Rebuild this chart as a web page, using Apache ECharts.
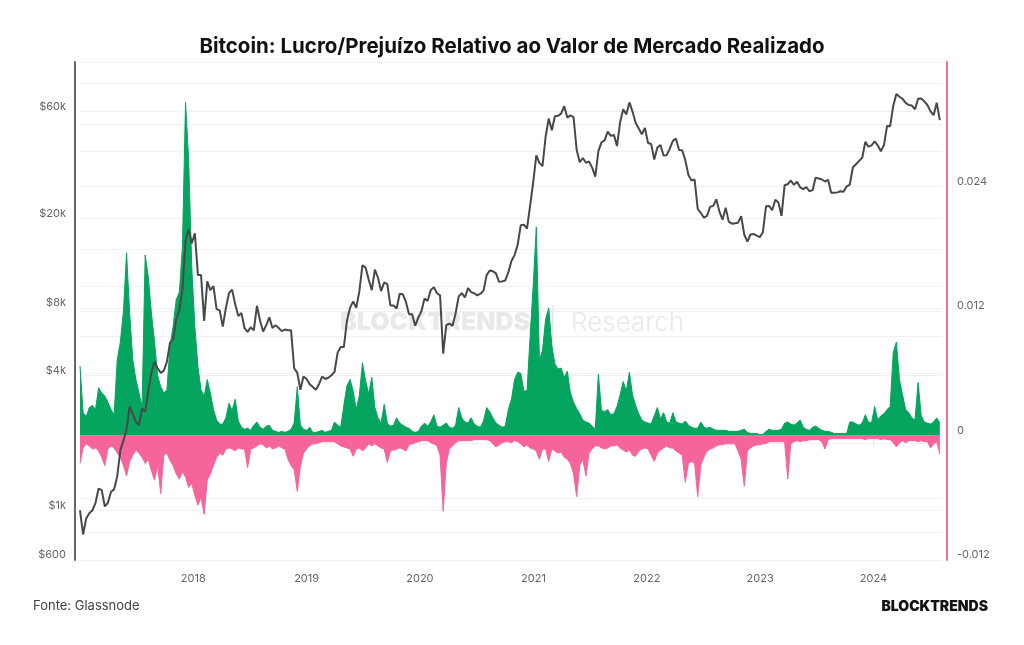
<!DOCTYPE html>
<html>
<head>
<meta charset="utf-8">
<title>Bitcoin: Lucro/Prejuízo Relativo</title>
<script src="https://cdn.jsdelivr.net/npm/echarts@6.0.0/dist/echarts.min.js"></script>
<style>
  html, body { margin: 0; padding: 0; background: #fff; }
  #chart { width: 1024px; height: 645px; }
</style>
</head>
<body>
<div id="chart"></div>
<script>
// samples every 10 days starting 2017-01-01
const startDay = [2017, 0, 1]
const stepDays = 10

// BTC price (USD), left log axis
const price = [
  1000, 780, 920, 970, 1000, 1080, 1250, 1230, 1040, 1080,
  1210, 1240, 1420, 1850, 2050, 2300, 2900, 2700, 2480, 2400,
  2850, 2750, 3400, 4100, 4600, 4300, 4100, 4200, 4600, 5600,
  5800, 7100, 7800, 9700, 16000, 18000, 15500, 17200, 11200, 11200,
  7000, 10500, 9600, 10000, 7900, 7800, 6600, 8000, 9300, 9650,
  8300, 7350, 7600, 6500, 6250, 6550, 6350, 8170, 7030, 6270,
  6700, 7260, 6500, 6700, 6500, 6300, 6400, 6350, 6350, 4300,
  4100, 3450, 3950, 3850, 3650, 3550, 3450, 3650, 3950, 3850,
  3900, 4000, 4150, 5050, 5350, 5350, 7000, 8000, 8550, 8000,
  9500, 12400, 12100, 10700, 9600, 11850, 10900, 9500, 10400, 10200,
  8200, 8200, 7950, 9250, 9200, 8500, 7500, 7500, 6650, 7250,
  7750, 8800, 8600, 9600, 9900, 9300, 9100, 5000, 6700, 6800,
  6650, 7550, 9000, 9300, 8900, 9800, 9400, 9300, 9100, 9250,
  9550, 11200, 11750, 11650, 11400, 10450, 10500, 10600, 11550, 12950,
  13750, 15300, 18700, 18800, 18050, 22800, 29000, 38300, 35500, 34300,
  46400, 55900, 49600, 57300, 57500, 58800, 63500, 56500, 57800, 56700,
  40600, 35700, 37300, 35500, 36000, 33800, 30800, 40000, 43800, 44700,
  48900, 46800, 47300, 42200, 53800, 61500, 58400, 66000, 60100, 53600,
  50500, 47600, 50800, 43500, 43100, 36700, 41500, 42600, 38300, 38400,
  41100, 44500, 45500, 40500, 40400, 36500, 31300, 29600, 29900, 22100,
  21200, 20200, 20600, 22600, 22800, 24400, 21500, 19800, 22400, 19400,
  19000, 19100, 19200, 20500, 17000, 15800, 17000, 17100, 16800, 16550,
  17400, 22700, 22800, 21800, 24300, 23600, 20600, 28200, 28500, 29600,
  28300, 29200, 27600, 27100, 27700, 26500, 26800, 30500, 30200, 29900,
  29300, 29800, 26100, 26100, 26200, 26500, 26400, 27900, 28400, 33900,
  35000, 36200, 37400, 44000, 41900, 42500, 44200, 42500, 40000, 42600,
  51800, 51700, 63800, 72000, 70000, 68500, 65700, 64300, 63900, 61500,
  68500, 68800, 66800, 64300, 60200, 57900, 65800, 55000
]

// relative profit (green) and loss (pink), right axis
const profit = [
  0.0067, 0.0022, 0.0018, 0.0027, 0.0029, 0.0025, 0.0046, 0.0041, 0.0038, 0.0032,
  0.0025, 0.002, 0.0073, 0.009, 0.012, 0.0176, 0.0118, 0.0073, 0.0054, 0.0041,
  0.0028, 0.0174, 0.0153, 0.0118, 0.0091, 0.0058, 0.0047, 0.0041, 0.0044, 0.0086,
  0.0105, 0.0131, 0.0138, 0.0182, 0.0321, 0.0266, 0.0163, 0.0105, 0.0066, 0.0044,
  0.0038, 0.0054, 0.0041, 0.0025, 0.0015, 0.0011, 0.0011, 0.0017, 0.0031, 0.0024,
  0.0035, 0.0014, 0.0008, 0.0006, 0.0007, 0.0005, 0.001, 0.0013, 0.0008, 0.0006,
  0.0009, 0.001, 0.0005, 0.0004, 0.0003, 0.0004, 0.0003, 0.0004, 0.0006, 0.0012,
  0.0047, 0.001, 0.0006, 0.0005, 0.0008, 0.0003, 0.0003, 0.0004, 0.0005, 0.0003,
  0.0004, 0.0005, 0.0013, 0.001, 0.0008, 0.0029, 0.0048, 0.0054, 0.0043, 0.0025,
  0.0039, 0.007, 0.0053, 0.004, 0.0056, 0.0027, 0.0017, 0.0012, 0.003, 0.0012,
  0.0009, 0.001, 0.0017, 0.0012, 0.001, 0.0008, 0.0007, 0.0004, 0.0003, 0.0004,
  0.0009, 0.0012, 0.0009, 0.0013, 0.002, 0.0009, 0.0008, 0.001, 0.0012, 0.0008,
  0.0007, 0.001, 0.0027, 0.0017, 0.0013, 0.0012, 0.0017, 0.0011, 0.0009, 0.0008,
  0.0014, 0.0027, 0.0023, 0.0017, 0.0012, 0.001, 0.0008, 0.0009, 0.0025, 0.0035,
  0.0054, 0.0061, 0.006, 0.0043, 0.0043, 0.0095, 0.0144, 0.0201, 0.0073, 0.0082,
  0.0112, 0.0123, 0.0087, 0.0069, 0.0064, 0.0065, 0.0056, 0.0062, 0.0041, 0.0032,
  0.0026, 0.0021, 0.0015, 0.0013, 0.0012, 0.0009, 0.0006, 0.0059, 0.0024, 0.0023,
  0.0025, 0.002, 0.0021, 0.0028, 0.0039, 0.0052, 0.0043, 0.0061, 0.0039, 0.0029,
  0.0021, 0.0015, 0.0013, 0.0012, 0.0011, 0.0019, 0.0027, 0.0016, 0.0022, 0.0013,
  0.0012, 0.0022, 0.0013, 0.0012, 0.0011, 0.0014, 0.001, 0.0008, 0.0007, 0.0007,
  0.0013, 0.0008, 0.0007, 0.0008, 0.0006, 0.0005, 0.0005, 0.0005, 0.0005, 0.0004,
  0.0004, 0.0004, 0.0004, 0.0005, 0.0006, 0.0003, 0.0002, 0.0002, 0.0002, 0.0001,
  0.0001, 0.0004, 0.0006, 0.0005, 0.0005, 0.0005, 0.0006, 0.0012, 0.0013, 0.0011,
  0.001, 0.0012, 0.0015, 0.0008, 0.0006, 0.0005, 0.0008, 0.0009, 0.0007, 0.0005,
  0.0004, 0.0004, 0.0003, 0.0002, 0.0002, 0.0002, 0.0002, 0.0002, 0.0013, 0.0013,
  0.0011, 0.001, 0.0012, 0.002, 0.0013, 0.0012, 0.0028, 0.0015, 0.0019, 0.0021,
  0.0025, 0.0028, 0.008, 0.009, 0.0054, 0.0039, 0.0025, 0.0022, 0.0017, 0.0015,
  0.0051, 0.0019, 0.0013, 0.0012, 0.0011, 0.0013, 0.0017, 0.0012
]

const loss = [
  -0.0027, -0.0012, -0.0008, -0.001, -0.0013, -0.0012, -0.0015, -0.0021, -0.0029, -0.0013,
  -0.001, -0.0012, -0.0017, -0.0021, -0.0029, -0.0039, -0.0025, -0.0019, -0.0014, -0.0017,
  -0.0021, -0.0027, -0.0023, -0.0034, -0.0043, -0.0029, -0.0056, -0.0019, -0.0017, -0.0024,
  -0.0029, -0.0037, -0.0042, -0.0035, -0.004, -0.005, -0.0046, -0.0058, -0.0067, -0.006,
  -0.0076, -0.0043, -0.0037, -0.0029, -0.0021, -0.0017, -0.0019, -0.0013, -0.0012, -0.0013,
  -0.0015, -0.0012, -0.0013, -0.0013, -0.0031, -0.0013, -0.0012, -0.001, -0.0008, -0.0009,
  -0.0012, -0.001, -0.0013, -0.0012, -0.001, -0.0012, -0.0013, -0.0023, -0.0029, -0.0033,
  -0.0054, -0.003, -0.0017, -0.0013, -0.001, -0.0008, -0.0008, -0.0007, -0.0006, -0.0006,
  -0.0006, -0.0006, -0.0006, -0.0008, -0.001, -0.0011, -0.0012, -0.0013, -0.002, -0.0013,
  -0.0012, -0.0015, -0.0012, -0.0008, -0.001, -0.0008, -0.001, -0.0012, -0.0013, -0.0026,
  -0.0015, -0.0014, -0.0013, -0.0012, -0.0013, -0.0015, -0.0009, -0.0008, -0.0007, -0.0006,
  -0.0005, -0.0005, -0.0005, -0.0007, -0.0008, -0.001, -0.0019, -0.0073, -0.0027, -0.0013,
  -0.001, -0.0007, -0.0005, -0.0005, -0.0005, -0.0005, -0.0005, -0.0004, -0.0004, -0.0004,
  -0.0004, -0.0004, -0.0005, -0.0008, -0.0011, -0.0009, -0.0007, -0.0006, -0.0006, -0.0007,
  -0.0005, -0.0006, -0.0008, -0.0011, -0.0009, -0.0012, -0.0013, -0.0015, -0.0023, -0.0013,
  -0.0013, -0.0025, -0.0013, -0.0015, -0.0017, -0.0016, -0.0021, -0.0023, -0.0027, -0.0037,
  -0.0059, -0.0029, -0.0023, -0.0039, -0.0017, -0.0013, -0.001, -0.001, -0.0012, -0.0013,
  -0.0012, -0.001, -0.001, -0.0009, -0.0012, -0.0014, -0.0016, -0.0014, -0.0019, -0.002,
  -0.0015, -0.0013, -0.0012, -0.0013, -0.0019, -0.0025, -0.0017, -0.0014, -0.0012, -0.001,
  -0.0012, -0.0012, -0.0015, -0.0017, -0.0019, -0.0045, -0.0027, -0.0025, -0.0027, -0.0059,
  -0.0029, -0.0021, -0.0015, -0.0013, -0.0012, -0.001, -0.0009, -0.0009, -0.0008, -0.0008,
  -0.0008, -0.0008, -0.0015, -0.0023, -0.0049, -0.0015, -0.0012, -0.001, -0.0009, -0.0009,
  -0.0008, -0.0008, -0.0006, -0.0006, -0.0006, -0.0006, -0.0006, -0.0006, -0.0042, -0.0008,
  -0.0006, -0.0005, -0.0006, -0.0005, -0.0005, -0.0004, -0.0004, -0.0004, -0.0004, -0.0006,
  -0.0013, -0.0004, -0.0003, -0.0003, -0.0003, -0.0003, -0.0003, -0.0003, -0.0003, -0.0003,
  -0.0003, -0.0003, -0.0003, -0.0004, -0.0003, -0.0003, -0.0003, -0.0003, -0.0004, -0.0003,
  -0.0004, -0.0004, -0.0007, -0.0011, -0.0007, -0.0005, -0.0007, -0.0005, -0.0005, -0.0005,
  -0.0006, -0.0005, -0.0006, -0.0006, -0.0012, -0.0008, -0.0006, -0.0018
]

// axis ticks
const years = [2018, 2019, 2020, 2021, 2022, 2023, 2024]
const priceLabels = [600, 1000, 4000, 8000, 20000, 60000]
const priceGrid = [600, 800, 1000, 2000, 4000, 6000, 8000, 10000, 20000, 40000, 60000, 80000]
const ratioLabels = [-0.012, 0, 0.012, 0.024]

const dates = price.map((_, i) => new Date(startDay[0], startDay[1], startDay[2] + i * stepDays).getTime())
const yearTs = years.map(y => new Date(y, 0, 1).getTime())
const pair = arr => arr.map((v, i) => [dates[i], v])

const GREEN = '#05a45f'
const PINK = '#f5649a'
const FONT = 'Inter'

const chart = echarts.init(document.getElementById('chart'))

chart.setOption({
  animation: false,
  backgroundColor: '#fff',
  textStyle: { fontFamily: FONT },
  title: {
    text: 'Bitcoin: Lucro/Prejuízo Relativo ao Valor de Mercado Realizado',
    left: 'center',
    top: 31,
    textStyle: { fontFamily: FONT, fontSize: 20.5, fontWeight: 'bold', color: '#111' }
  },
  grid: { left: 80, right: 82, top: 62, bottom: 85 },
  xAxis: {
    // timestamps on a value axis, labelled with the year
    type: 'value',
    min: new Date(2017, 0, 1).getTime(),
    max: new Date(2024, 7, 9).getTime(),
    axisLine: { lineStyle: { color: '#e3e3e3' } },
    axisTick: { show: true, length: 10, lineStyle: { color: '#e3e3e3' }, customValues: yearTs },
    axisLabel: {
      customValues: yearTs,
      formatter: v => String(new Date(v).getFullYear()),
      color: '#666',
      fontSize: 11,
      margin: 13
    },
    splitLine: { show: false }
  },
  yAxis: [
    {
      type: 'log',
      min: 600,
      max: 100000,
      position: 'left',
      offset: 5,
      axisLine: { show: true, lineStyle: { color: '#666', width: 2 } },
      axisTick: { show: false, customValues: priceGrid },
      axisLabel: {
        customValues: priceLabels,
        formatter: v => v >= 1000 ? '$' + Math.round(v / 1000) + 'k' : '$' + Math.round(v),
        color: '#666',
        fontSize: 11,
        margin: 9,
        verticalAlign: 'bottom',
        lineHeight: 10
      },
      splitLine: { show: true, lineStyle: { color: '#f1f1f1' } }
    },
    {
      type: 'value',
      min: -0.012,
      max: 0.036,
      interval: 0.006,
      position: 'right',
      offset: 5,
      axisLine: { show: true, lineStyle: { color: '#f06c9b', width: 2 } },
      axisTick: { show: false },
      axisLabel: {
        customValues: ratioLabels,
        formatter: v => String(+v.toFixed(3)),
        color: '#666',
        fontSize: 11,
        margin: 10,
        verticalAlign: 'bottom',
        lineHeight: 10
      },
      splitLine: { show: true, lineStyle: { color: '#f1f1f1' } }
    }
  ],
  graphic: [
    {
      type: 'group',
      z: 0,
      silent: true,
      children: [
        { type: 'text', x: 340, y: 310, style: { text: 'BLOCKTRENDS', fill: '#e9e9e9', font: '900 25px Inter' } },
        { type: 'rect', shape: { x: 552, y: 305, width: 1.5, height: 38 }, style: { fill: '#e6e6e6' } },
        { type: 'text', x: 571, y: 310, style: { text: 'Research', fill: '#e9e9e9', font: '300 26px Inter' } }
      ]
    },
    { type: 'text', left: 33, top: 600, style: { text: 'Fonte: Glassnode', fill: '#444', font: '13px Inter' } },
    { type: 'text', right: 36, top: 600, style: { text: 'BLOCKTRENDS', fill: '#111', font: '900 14px Inter' } }
  ],
  series: [
    {
      name: 'Lucro',
      type: 'line',
      yAxisIndex: 1,
      data: pair(profit),
      symbol: 'none',
      lineStyle: { color: GREEN, width: 1 },
      areaStyle: { color: GREEN, opacity: 1 },
      z: 2
    },
    {
      name: 'Prejuízo',
      type: 'line',
      yAxisIndex: 1,
      data: pair(loss),
      symbol: 'none',
      lineStyle: { color: PINK, width: 1 },
      areaStyle: { color: PINK, opacity: 1 },
      z: 2
    },
    {
      name: 'Preço',
      type: 'line',
      yAxisIndex: 0,
      data: pair(price),
      symbol: 'none',
      lineStyle: { color: '#484848', width: 2 },
      z: 3
    }
  ]
})
</script>
</body>
</html>
